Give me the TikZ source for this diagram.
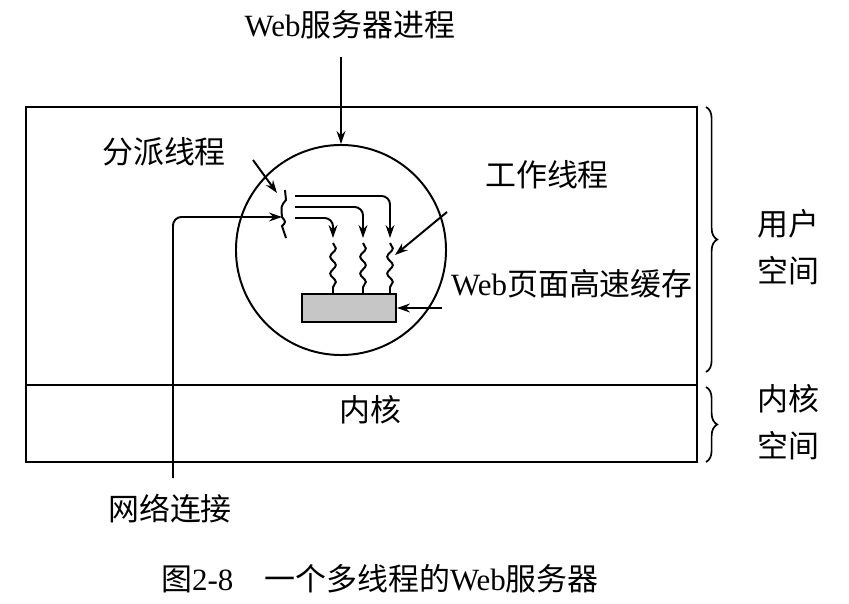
\documentclass[tikz,border=0pt]{standalone}
\usepackage{fontspec}
\setmainfont{Noto Sans CJK SC}
\newfontfamily\webfont{Liberation Serif}
\usetikzlibrary{arrows.meta,decorations.pathmorphing,decorations.pathreplacing}
\tikzset{
  >={Stealth[length=3.2mm,width=2.2mm]},
  ln/.style   ={line width=1.4pt},
  lbl/.style  ={font=\fontsize{22}{33}\selectfont, inner sep=0pt, align=center},
  wavy/.style ={ln, decorate, decoration={snake, amplitude=2pt, segment length=12pt}},
  cache/.style={draw, ln, fill=gray!45, minimum width=2.35cm, minimum height=0.72cm, inner sep=0pt},
  brc/.style  ={line width=1.2pt, decorate, decoration={brace, amplitude=8pt}}
}
\begin{document}
\begin{tikzpicture}[x=0.025cm, y=-0.025cm]
\useasboundingbox (0,0) rectangle (849,604);
% frame: user space over kernel space
\draw[ln] (26,107) rectangle (697,462);
\draw[ln] (26,385) -- (697,385);
\node[lbl] (kern) at (370,410) {内核};
% server process
\node[draw, ln, circle, minimum size=5.25cm, inner sep=0pt] (proc) at (341,250) {};
\node[cache] (cache) at (349,308) {};
\node[lbl] (srv) at (350,25) {{\webfont Web}服务器进程};
\coordinate (srvtip) at (341,57);
\draw[ln,->] (srvtip) -- (proc.north);
% dispatcher
\coordinate (disp) at (282,217);
\draw[ln] (285,190) -- (286,200) .. controls (281,206) .. (disp)
  .. controls (286,222) .. (282,226) -- (286,238);
\foreach \y/\x in {196/390, 207/363, 218/333}
  \draw[ln,->,rounded corners=6pt] (295,\y) -| (\x,238);
% workers
\foreach \x in {333,363,390}
  \draw[wavy] (\x,243) -- (\x,294);
% network connection
\node[lbl] (net) at (170,509) {网络连接};
\coordinate (netend) at (173,478);
\draw[ln,->,rounded corners=6pt] (netend) |- (disp);
% labels
\node[lbl] (displbl) at (164,152) {分派线程};
\coordinate (dispa) at (253,160);
\draw[ln,->] (dispa) -- (277,193);
\node[lbl] (worklbl) at (547,175) {工作线程};
\coordinate (worka) at (447,212);
\draw[ln,->] (worka) -- (395,255);
\node[lbl] (cachelbl) at (572,284) {{\webfont Web}页面高速缓存};
\coordinate (cachea) at (442,308);
\draw[ln,->] (cachea) -- (cache.east);
% braces
\draw[brc] (706,107) -- (706,372);
\node[lbl] (user) at (788,247) {用户\\空间};
\draw[brc] (706,387) -- (706,462);
\node[lbl] (kspace) at (788,422) {内核\\空间};
% caption
\node[lbl] (cap) at (380,579) {图{\webfont 2-8}\quad 一个多线程的{\webfont Web}服务器};
\end{tikzpicture}
\end{document}
